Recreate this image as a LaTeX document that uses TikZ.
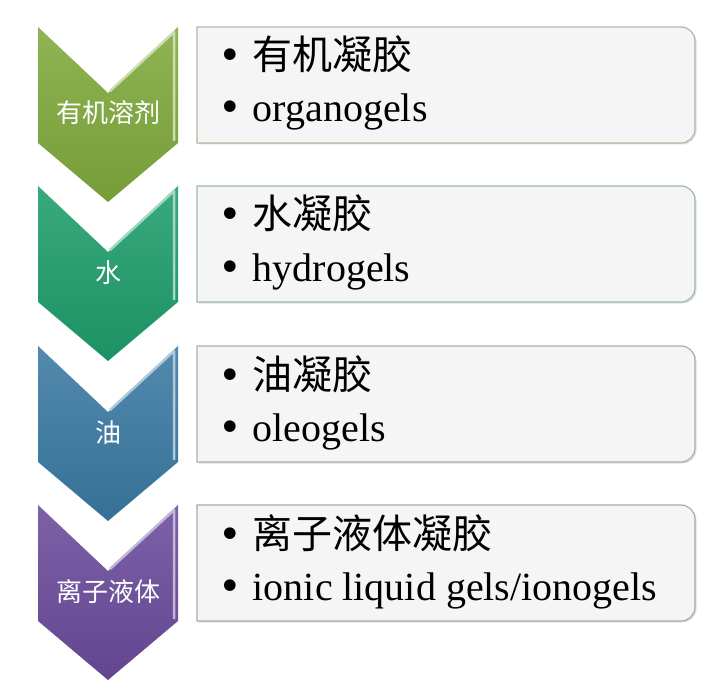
\documentclass[tikz,border=0pt]{standalone}
\usepackage{fontspec}
\setmainfont{Liberation Serif}
\newfontfamily\cjk{Noto Sans CJK SC}
\newfontfamily\symf{DejaVu Sans}
\usetikzlibrary{shadows}
\definecolor{grn}{HTML}{7FAA3C}
\definecolor{tea}{HTML}{1E9E6C}
\definecolor{blu}{HTML}{3B7AA3}
\definecolor{pur}{HTML}{6A4C9C}

\begin{document}
\begin{tikzpicture}[x=1pt,y=-1pt,
	chev/.style={top color=#1!88!white, bottom color=#1!92!black},
	shine/.style={draw=#1!40!white, line width=2.5pt, line join=round},
	lbl/.style={text=white, font=\cjk\fontsize{26}{26}\selectfont},
	panel/.style={draw=#1!35!gray!60, line width=1.2pt, fill=gray!8,
		drop shadow={shadow xshift=1.5pt, shadow yshift=-1.5pt, opacity=0.25}},
	itm/.style={anchor=base west, inner sep=0pt, font=\fontsize{40}{40}\selectfont}]
	\useasboundingbox[fill=white] (0,0) rectangle (720,695);

	\shade[chev=grn] (38,27) -- (108,93) -- (178,27) -- (178,143) -- (108,202) -- (38,143) -- cycle;
	\draw[shine=grn] (110,91) -- (174,32) -- (174,141);
	\node [lbl] (s1) at (108,113) {有机溶剂};
	\draw[panel=grn] (197,27) -- (681,27) arc (-90:0:14) -- (695,129) arc (0:90:14) -- (197,143) -- cycle;
	\node [itm] (t1a) at (218,70) {{\symf\textbullet}\hspace{11pt}{\cjk 有机凝胶}};
	\node [itm] (t1b) at (218,122) {{\symf\textbullet}\hspace{11pt}organogels};

	\shade[chev=tea] (38,186) -- (108,252) -- (178,186) -- (178,302) -- (108,361) -- (38,302) -- cycle;
	\draw[shine=tea] (110,250) -- (174,191) -- (174,300);
	\node [lbl] (s2) at (108,273) {水};
	\draw[panel=tea] (197,186) -- (681,186) arc (-90:0:14) -- (695,288) arc (0:90:14) -- (197,302) -- cycle;
	\node [itm] (t2a) at (218,229) {{\symf\textbullet}\hspace{11pt}{\cjk 水凝胶}};
	\node [itm] (t2b) at (218,281) {{\symf\textbullet}\hspace{11pt}hydrogels};

	\shade[chev=blu] (38,346) -- (108,412) -- (178,346) -- (178,462) -- (108,521) -- (38,462) -- cycle;
	\draw[shine=blu] (110,410) -- (174,351) -- (174,460);
	\node [lbl] (s3) at (108,433) {油};
	\draw[panel=blu] (197,346) -- (681,346) arc (-90:0:14) -- (695,448) arc (0:90:14) -- (197,462) -- cycle;
	\node [itm] (t3a) at (218,389) {{\symf\textbullet}\hspace{11pt}{\cjk 油凝胶}};
	\node [itm] (t3b) at (218,441) {{\symf\textbullet}\hspace{11pt}oleogels};

	\shade[chev=pur] (38,505) -- (108,571) -- (178,505) -- (178,621) -- (108,680) -- (38,621) -- cycle;
	\draw[shine=pur] (110,569) -- (174,510) -- (174,619);
	\node [lbl] (s4) at (108,592) {离子液体};
	\draw[panel=pur] (197,505) -- (681,505) arc (-90:0:14) -- (695,607) arc (0:90:14) -- (197,621) -- cycle;
	\node [itm] (t4a) at (218,548) {{\symf\textbullet}\hspace{11pt}{\cjk 离子液体凝胶}};
	\node [itm] (t4b) at (218,600) {{\symf\textbullet}\hspace{11pt}ionic liquid gels/ionogels};
\end{tikzpicture}
\end{document}
